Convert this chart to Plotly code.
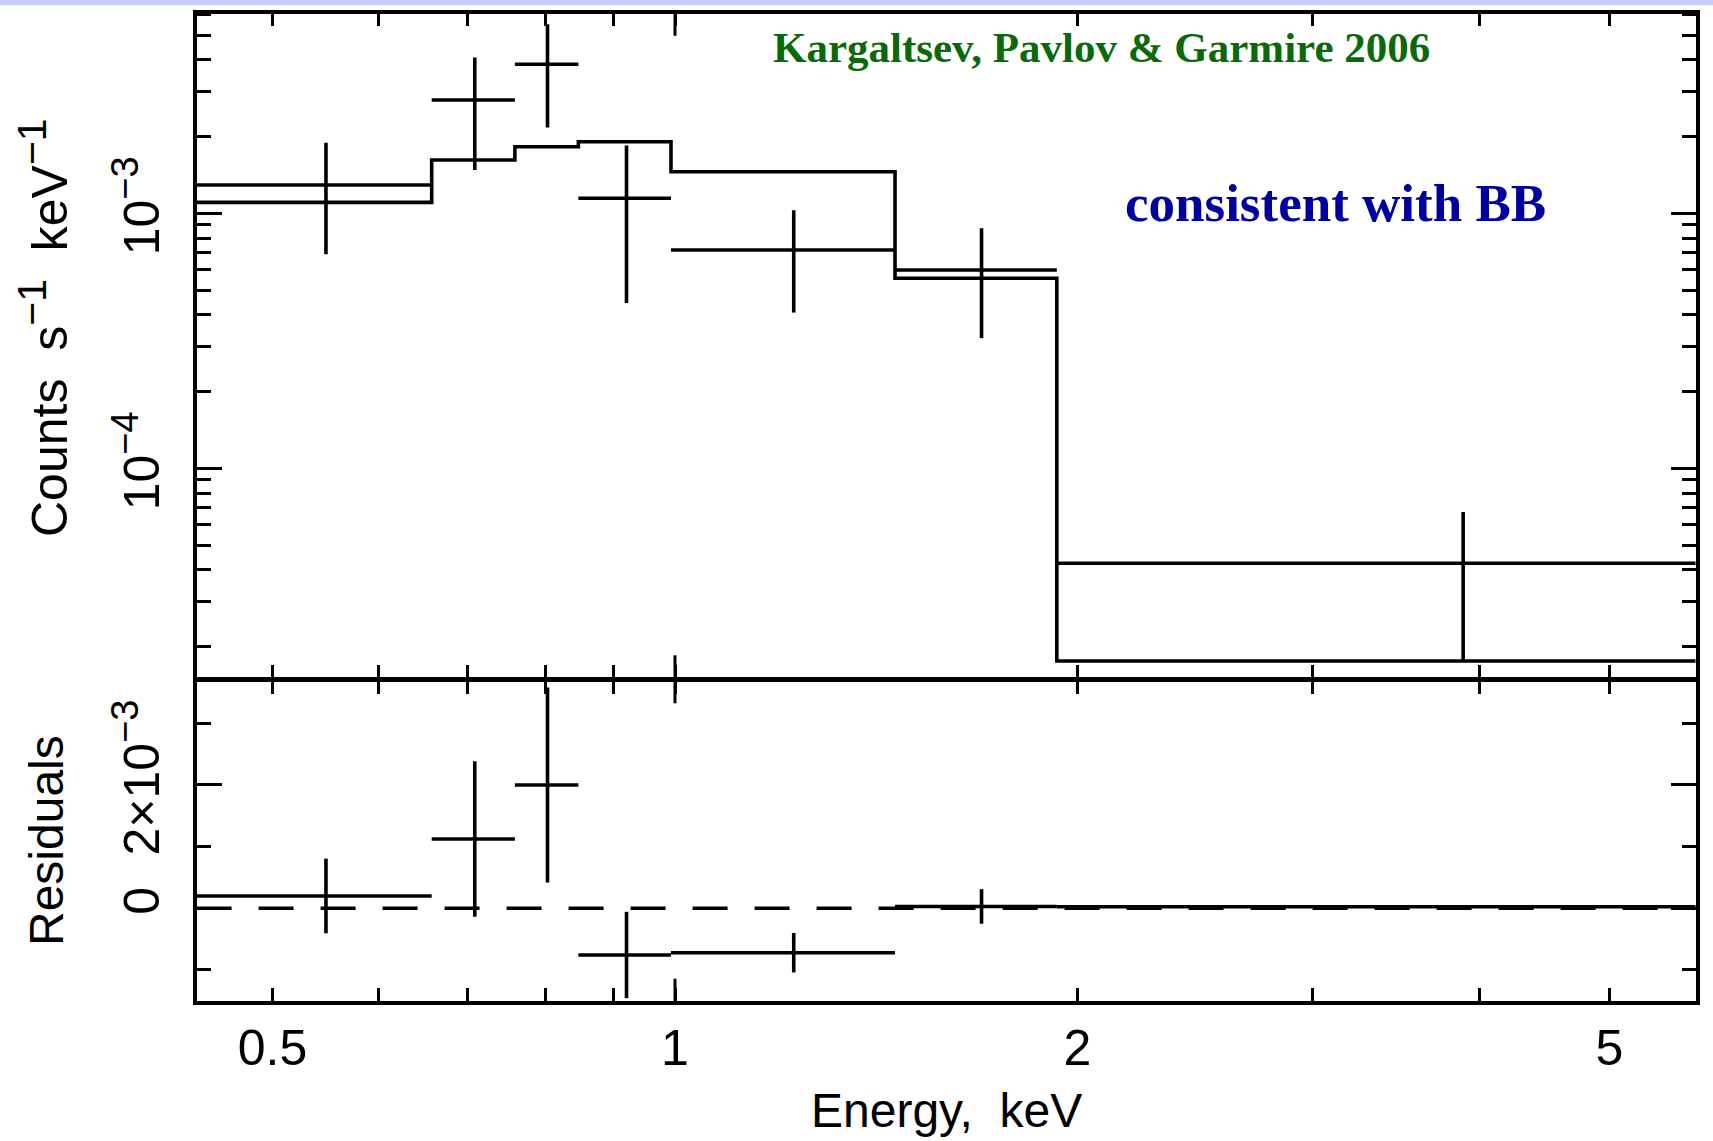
import numpy as np
import plotly.graph_objects as go

# ---- spectrum data (counts s^-1 keV^-1) ----
bin_lo = [0.4387, 0.6577, 0.7590, 0.8467, 0.9931, 1.4607, 1.9301]
bin_hi = [0.6577, 0.7590, 0.8467, 0.9931, 1.4607, 1.9301, 5.842]
rate = [1.291e-3, 2.780e-3, 3.840e-3, 1.145e-3, 0.718e-3, 0.599e-3, 4.24e-5]
rate_err = [0.60e-3, 1.30e-3, 1.67e-3, 0.70e-3, 0.31e-3, 0.275e-3, 2.5e-5]
model = [1.104e-3, 1.618e-3, 1.825e-3, 1.909e-3, 1.456e-3, 0.556e-3, 1.754e-5]

# ---- residuals (data - model) ----
resid = [0.20e-3, 1.124e-3, 2.0e-3, -0.757e-3, -0.72e-3, 0.03e-3, 0.025e-3]
resid_err = [0.605e-3, 1.26e-3, 1.58e-3, 0.70e-3, 0.32e-3, 0.28e-3, 0.026e-3]


def sup(t, size=38):
    return f'<sup><span style="font-size:{size}px">{t}</span></sup>'


# axis tick labels
x_tickvals = [0.5, 1, 2, 5]
x_ticktext = ["0.5", "1", "2", "5"]
y_tickvals = [1e-4, 1e-3]
y_ticktext = ["10" + sup("−4"), "10" + sup("−3")]
r_tickvals = [0, 2e-3]
r_ticktext = ["0", "2×10" + sup("−3")]

W, H = 1713, 1141
def px(p):
    return p / W
def py(p):
    return 1 - p / H

centers = [(a + b) / 2 for a, b in zip(bin_lo, bin_hi)]
xerr_plus = [b - c for b, c in zip(bin_hi, centers)]
xerr_minus = [c - a for a, c in zip(bin_lo, centers)]

edges = bin_lo + [bin_hi[-1]]
model_steps = model + [model[-1]]

LW = 3.6        # data / model line width
FW = 3.6        # frame width
fig = go.Figure()

# model histogram
fig.add_trace(go.Scatter(
    x=edges, y=model_steps, mode="lines",
    line=dict(shape="hv", color="black", width=LW),
    xaxis="x", yaxis="y", hoverinfo="skip"))

# data with bin-width and 1-sigma error bars
fig.add_trace(go.Scatter(
    x=centers, y=rate, mode="markers",
    marker=dict(size=1, color="black"),
    error_x=dict(type="data", symmetric=False, array=xerr_plus, arrayminus=xerr_minus,
                 color="black", thickness=LW, width=0),
    error_y=dict(type="data", array=rate_err, color="black", thickness=LW, width=0),
    xaxis="x", yaxis="y"))

# zero line in residual panel
fig.add_trace(go.Scatter(
    x=[edges[0], edges[-1]], y=[0, 0], mode="lines",
    line=dict(color="black", width=LW, dash="35px,27px"),
    xaxis="x2", yaxis="y2", hoverinfo="skip"))

# residuals
fig.add_trace(go.Scatter(
    x=centers, y=resid, mode="markers",
    marker=dict(size=1, color="black"),
    error_x=dict(type="data", symmetric=False, array=xerr_plus, arrayminus=xerr_minus,
                 color="black", thickness=LW, width=0),
    error_y=dict(type="data", array=resid_err, color="black", thickness=LW, width=0),
    xaxis="x2", yaxis="y2"))

FONT = "Liberation Sans, Arial, Helvetica, sans-serif"
axis_style = dict(showline=True, linecolor="black", linewidth=FW, mirror="ticks",
                  ticks="inside", tickcolor="black", tickwidth=3,
                  showgrid=False, zeroline=False,
                  tickfont=dict(family=FONT, size=50, color="black"))

# frame line centres (px): left 195, right 1697.3, top 11.7, divider 679.3, bottom 1002.7
h = FW / 2
x_dom = [px(195 + h), px(1697.3 - h)]
top_dom = [py(679.3 - h), py(11.7 + h)]
bot_dom = [py(1002.7 - h), py(679.3 + h)]

# data ranges matching the inner edges of the frame
lx0 = (195 + h - 675.0) / 1337.0
lx1 = (1697.3 - h - 675.0) / 1337.0
x_range = [lx0, lx1]
ly_top = -3 + (213.3 - (11.7 + h)) / 255.0
ly_bot = -3 - ((679.3 - h) - 213.3) / 255.0
r_top = (908.3 - (679.3 + h)) / 61.67 * 1e-3
r_bot = -((1002.7 - h) - 908.3) / 61.67 * 1e-3

x_minor = dict(tickvals=[0.6, 0.7, 0.8, 0.9, 3, 4], ticks="inside", ticklen=13,
               tickwidth=3, tickcolor="black")

y_minor_vals = [k * 10.0 ** e for e in (-5, -4, -3) for k in range(2, 10)]
y_minor_vals = [v for v in y_minor_vals if 1.5e-5 < v < 6.1e-3]

fig.update_layout(
    width=W, height=H,
    margin=dict(l=0, r=0, t=0, b=0),
    paper_bgcolor="white", plot_bgcolor="white",
    showlegend=False,
    font=dict(family=FONT, size=48, color="black"),
    xaxis=dict(axis_style, domain=x_dom, type="log", range=x_range, anchor="y",
               tickmode="array", tickvals=x_tickvals, ticktext=x_ticktext, ticklen=13,
               showticklabels=False, minor=x_minor),
    xaxis2=dict(axis_style, domain=x_dom, type="log", range=x_range, anchor="y2",
                matches="x", tickmode="array", tickvals=x_tickvals, ticktext=x_ticktext,
                ticklen=13, showticklabels=True, ticklabelstandoff=0, minor=x_minor),
    yaxis=dict(axis_style, domain=top_dom, type="log",
               range=[ly_bot, ly_top], anchor="x",
               tickmode="array", tickvals=y_tickvals, ticktext=y_ticktext,
               tickangle=-90, ticklen=25, ticklabelstandoff=14,
               minor=dict(tickvals=y_minor_vals, ticks="inside", ticklen=14,
                          tickwidth=3, tickcolor="black")),
    yaxis2=dict(axis_style, domain=bot_dom,
                range=[r_bot, r_top], anchor="x2",
                tickmode="array", tickvals=r_tickvals, ticktext=r_ticktext,
                tickangle=-90, ticklen=25, ticklabelstandoff=14,
                minor=dict(tickvals=[-1e-3, 1e-3, 3e-3], ticks="inside", ticklen=14,
                           tickwidth=3, tickcolor="black")),
)

# longer decade tick at 1 keV on every horizontal frame edge
L = 24 / H
for y0, y1 in [(py(11.7), py(11.7) - L), (py(679.3), py(679.3) + L),
               (py(679.3), py(679.3) - L), (py(1002.7), py(1002.7) + L)]:
    fig.add_shape(type="line", xref="x", yref="paper", x0=1, x1=1, y0=y0, y1=y1,
                  line=dict(color="black", width=3))

# thin band along the top edge
fig.add_shape(type="rect", xref="paper", yref="paper", x0=0, x1=1, y0=py(5), y1=1,
              line=dict(width=0), fillcolor="#cacaf6", layer="below")

annotations = [
    dict(text="Counts  s" + sup("−1", 41) + "  keV" + sup("−1", 41), textangle=-90,
         x=px(44), y=py(328), xanchor="center", yanchor="middle",
         font=dict(family=FONT, size=50, color="black")),
    dict(text="Residuals", textangle=-90,
         x=px(46), y=py(841), xanchor="center", yanchor="middle",
         font=dict(family=FONT, size=48, color="black")),
    dict(text="Energy,  keV", x=px(946), y=py(1110), xanchor="center", yanchor="middle",
         font=dict(family=FONT, size=48, color="black")),
    dict(text="<b>Kargaltsev, Pavlov &amp; Garmire 2006</b>",
         x=px(771), y=py(47), xanchor="left", yanchor="middle",
         font=dict(family="Liberation Serif, Times New Roman, serif", size=43,
                   color="#0a6a0a")),
    dict(text="<b>consistent with BB</b>",
         x=px(1123), y=py(203), xanchor="left", yanchor="middle",
         font=dict(family="Liberation Serif, Times New Roman, serif", size=53,
                   color="#00009e")),
]
for a in annotations:
    a.update(xref="paper", yref="paper", showarrow=False)
fig.update_layout(annotations=annotations)

fig.write_html("out.html")
